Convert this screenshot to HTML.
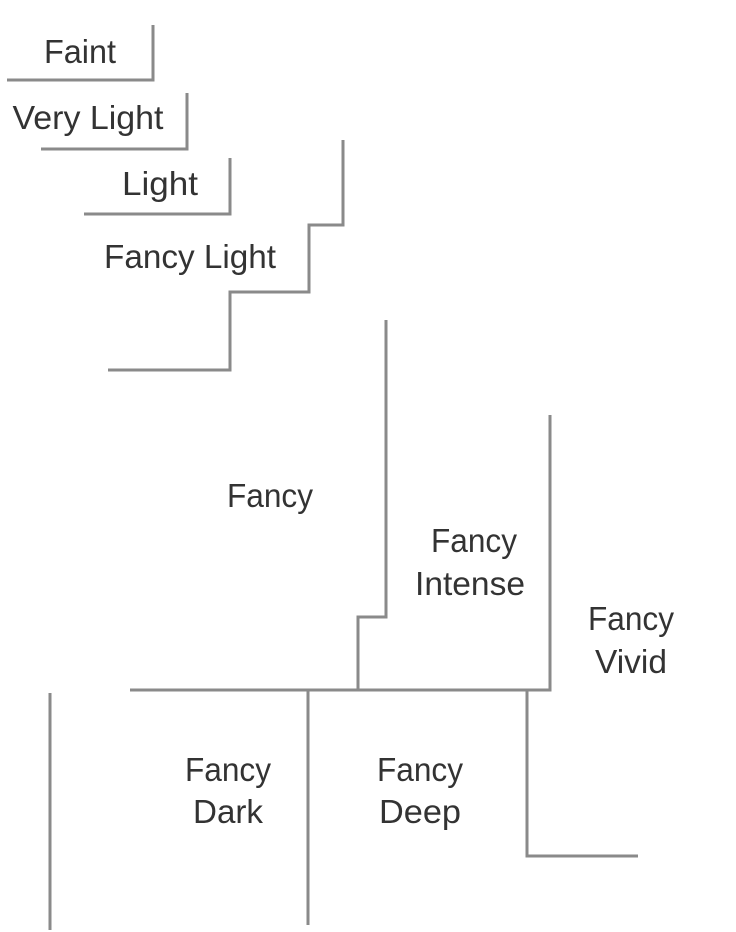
<!DOCTYPE html>
<html><head><meta charset="utf-8"><style>
html,body{margin:0;padding:0;background:#fff;}
svg{display:block;}
text{font-family:"Liberation Sans",sans-serif;font-size:33px;fill:#333;text-anchor:middle;}
</style></head><body>
<svg width="736" height="932" viewBox="0 0 736 932" xmlns="http://www.w3.org/2000/svg">
<g fill="none" stroke="#8a8a8a" stroke-width="3">
<polyline points="7,80 153,80 153,25"/>
<polyline points="41,149 187,149 187,93"/>
<polyline points="84,214 230,214 230,158"/>
<polyline points="108,370 230,370 230,292 309,292 309,225 343,225 343,140"/>
<polyline points="386,320 386,617 358,617 358,690"/>
<polyline points="130,690 550,690 550,415"/>
<line x1="308" y1="690" x2="308" y2="925"/>
<polyline points="527,690 527,856 638,856"/>
<line x1="50" y1="693" x2="50" y2="930"/>
</g>
<text x="80" y="63" textLength="72" lengthAdjust="spacingAndGlyphs">Faint</text>
<text x="88" y="129" textLength="151" lengthAdjust="spacingAndGlyphs">Very Light</text>
<text x="160" y="195" textLength="76" lengthAdjust="spacingAndGlyphs">Light</text>
<text x="190" y="268" textLength="172" lengthAdjust="spacingAndGlyphs">Fancy Light</text>
<text x="270" y="507" textLength="86" lengthAdjust="spacingAndGlyphs">Fancy</text>
<text x="474" y="552" textLength="86" lengthAdjust="spacingAndGlyphs">Fancy</text>
<text x="470" y="595" textLength="110" lengthAdjust="spacingAndGlyphs">Intense</text>
<text x="631" y="630" textLength="86" lengthAdjust="spacingAndGlyphs">Fancy</text>
<text x="631" y="673" textLength="72" lengthAdjust="spacingAndGlyphs">Vivid</text>
<text x="228" y="781" textLength="86" lengthAdjust="spacingAndGlyphs">Fancy</text>
<text x="228" y="823" textLength="70" lengthAdjust="spacingAndGlyphs">Dark</text>
<text x="420" y="781" textLength="86" lengthAdjust="spacingAndGlyphs">Fancy</text>
<text x="420" y="823" textLength="82" lengthAdjust="spacingAndGlyphs">Deep</text>
</svg>
</body></html>
